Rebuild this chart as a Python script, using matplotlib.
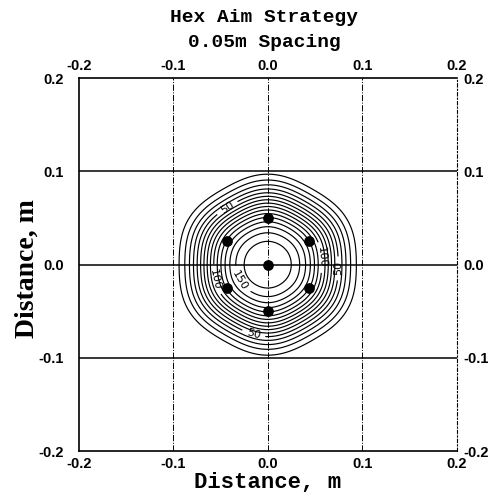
import numpy as np
import matplotlib
matplotlib.use("Agg")
import matplotlib.pyplot as plt

# aim points (m) for hex pattern, 0.05 m spacing
aim_x = [0.0, 0.0, 0.0433, 0.0433, 0.0, -0.0433, -0.0433]
aim_y = [0.0, 0.05, 0.025, -0.025, -0.05, -0.025, 0.025]

# single-beam flux model (peak, width) and background offset
beam_peak = 82.0
beam_sigma = 0.028
background = 12.0

levels = [10, 20, 30, 40, 50, 60, 70, 80, 90, 100, 110, 120, 130, 140, 150, 160]
label_levels = [50, 100, 150]
# where the contour labels sit (m)
label_pos = [(-0.046, 0.066), (-0.016, -0.078), (0.075, -0.004),
             (0.059, 0.008), (-0.06, -0.017), (-0.035, -0.02)]

ticks = [-0.2, -0.1, 0.0, 0.1, 0.2]
tick_labels = ["-0.2", "-0.1", "0.0", "0.1", "0.2"]

# flux field from the aim points
g = np.linspace(-0.2, 0.2, 401)
X, Y = np.meshgrid(g, g)
Z = np.zeros_like(X)
for ax_, ay_ in zip(aim_x, aim_y):
    Z += beam_peak * np.exp(-((X - ax_) ** 2 + (Y - ay_) ** 2) / (2 * beam_sigma ** 2))
Z -= background

fig = plt.figure(figsize=(4.99, 4.98), dpi=100)
ax = fig.add_axes([0.158, 0.094, 0.757, 0.749])

plain_levels = [lv for lv in levels if lv not in label_levels]
ax.contour(X, Y, Z, levels=plain_levels, colors='black', linewidths=0.85)
cs = ax.contour(X, Y, Z, levels=label_levels, colors='black', linewidths=0.85)
ax.clabel(cs, fmt='%d', fontsize=8, inline=True, manual=label_pos)

ax.scatter(aim_x, aim_y, s=45, color='black', zorder=5)

# grid: solid horizontal, dash-dot vertical
for yv in [-0.1, 0.0, 0.1]:
    ax.axhline(yv, color='black', lw=1.1, zorder=3)
for xv in [-0.1, 0.0, 0.1]:
    ax.axvline(xv, color='black', lw=0.7, ls='-.', zorder=3)

ax.set_xlim(-0.2, 0.2)
ax.set_ylim(-0.2, 0.2)

ax.spines['right'].set_linestyle((0, (3, 2, 1, 2)))
ax.spines['right'].set_linewidth(0.8)
for s in ['left', 'top', 'bottom']:
    ax.spines[s].set_linewidth(1.2)

tick_font = dict(family='Liberation Sans', weight='bold', size=10.5)

ax.set_xticks(ticks)
ax.set_xticklabels(tick_labels, **tick_font)
ax.set_yticks(ticks)
ax.set_yticklabels(tick_labels, **tick_font)
ax.tick_params(axis='x', length=0, pad=4, top=True, labeltop=True)
ax.tick_params(axis='y', length=0, pad=11)
for lbl in ax.get_xticklabels(which='both'):
    lbl.set_fontfamily('Liberation Sans')
    lbl.set_fontweight('bold')
    lbl.set_fontsize(10.5)

# right-hand labels sit closer to the frame
ax2 = ax.twinx()
ax2.set_ylim(-0.2, 0.2)
ax2.set_yticks(ticks)
ax2.set_yticklabels(tick_labels, **tick_font)
ax2.tick_params(length=0, pad=5)
for s in ax2.spines.values():
    s.set_visible(False)

ax.set_xlabel("Distance, m", family='Liberation Mono', fontsize=16, fontweight='bold',
              labelpad=1)
ax.set_ylabel("Distance, m", family='Liberation Serif', fontsize=20, fontweight='bold')
ax.yaxis.set_label_coords(-0.105, 0.49)

fig.text(0.53, 0.965, "Hex Aim Strategy", family='Liberation Mono', fontsize=14,
         fontweight='bold', ha='center', va='center')
fig.text(0.53, 0.915, "0.05m Spacing", family='Liberation Mono', fontsize=14,
         fontweight='bold', ha='center', va='center')

plt.savefig("out.png", dpi=100)
